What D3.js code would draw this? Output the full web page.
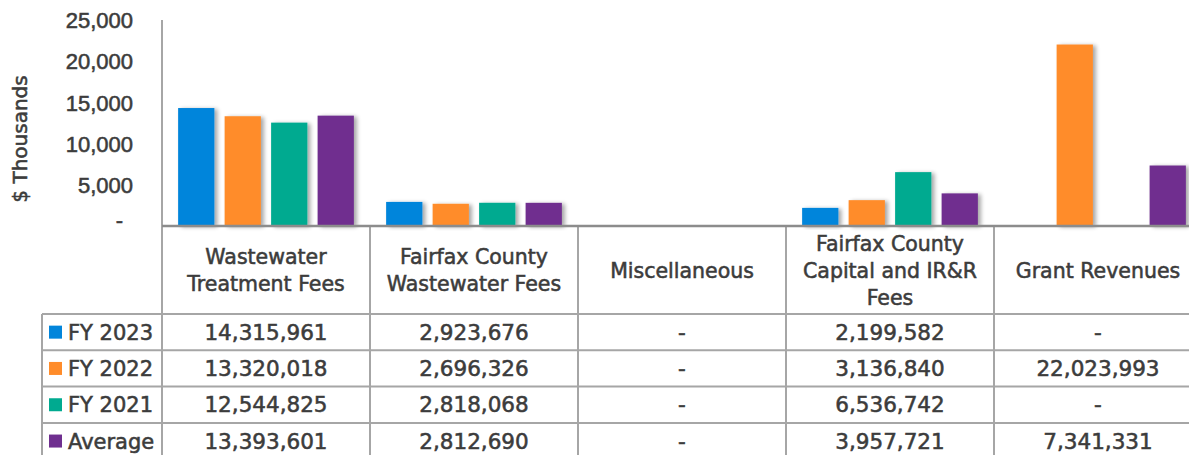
<!DOCTYPE html>
<html>
<head>
<meta charset="utf-8">
<script src="https://cdn.jsdelivr.net/npm/d3@7"></script>
<style>
  body { margin: 0; background: #fff; }
  svg { display: block; font-family: "DejaVu Sans", sans-serif; }
  svg text { stroke: #3c3c3c; stroke-width: 0.55px; }
</style>
</head>
<body>
<div class="res"></div>
<script>
// categories (header lines) and series values, in dollars
const categories = [
  ['Wastewater', 'Treatment Fees'],
  ['Fairfax County', 'Wastewater Fees'],
  ['Miscellaneous'],
  ['Fairfax County', 'Capital and IR&R', 'Fees'],
  ['Grant Revenues']
];
const seriesNames = ['FY 2023', 'FY 2022', 'FY 2021', 'Average'];
const seriesColors = ['#0285db', '#ff8c2a', '#00aa90', '#6f2f8f'];
const fy2023 = [14315961, 2923676, null, 2199582, null];
const fy2022 = [13320018, 2696326, null, 3136840, 22023993];
const fy2021 = [12544825, 2818068, null, 6536742, null];
const average = [13393601, 2812690, null, 3957721, 7341331];
const yTicks = [0, 5000, 10000, 15000, 20000, 25000];

const series = [fy2023, fy2022, fy2021, average];

const W = 1189, H = 455;
const margin = { top: 20, left: 162 };
const plotBottom = 226;
const plotRight = 1202; // last column runs past the window edge
const headerBottom = 314;
const rowH = 36.3;
const legendLeft = 42;
const textColor = '#3c3c3c';
const lineColor = '#a6a6a6';

const svg = d3.select('div.res')
  .append('svg')
  .attr('width', W)
  .attr('height', H);

// drop shadow for bars
const defs = svg.append('defs');
const filter = defs.append('filter')
  .attr('id', 'shadow')
  .attr('x', '-20%').attr('y', '-20%')
  .attr('width', '160%').attr('height', '140%');
filter.append('feGaussianBlur').attr('in', 'SourceAlpha').attr('stdDeviation', 2).attr('result', 'blur');
filter.append('feOffset').attr('in', 'blur').attr('dx', 3).attr('dy', 1).attr('result', 'off');
filter.append('feComponentTransfer').attr('in', 'off').attr('result', 'soft')
  .append('feFuncA').attr('type', 'linear').attr('slope', 0.35);
const merge = filter.append('feMerge');
merge.append('feMergeNode').attr('in', 'soft');
merge.append('feMergeNode').attr('in', 'SourceGraphic');

/**
 * SCALES
 */
const x0 = d3.scaleBand()
  .domain(d3.range(categories.length))
  .range([margin.left, plotRight]);

const x1 = d3.scaleBand()
  .domain(d3.range(seriesNames.length))
  .range([0, x0.bandwidth()])
  .paddingInner(0.22)
  .paddingOuter(0.347);

const y = d3.scaleLinear()
  .domain([0, 25000])
  .range([plotBottom, margin.top]);

/**
 * GRIDLINES + Y AXIS
 */
const grid = svg.append('g');
grid.selectAll('line.grid')
  .data(yTicks.filter(d => d > 0))
  .enter().append('line')
  .attr('class', 'grid')
  .attr('x1', margin.left).attr('x2', W)
  .attr('y1', d => y(d)).attr('y2', d => y(d))
  .style('stroke', lineColor)
  .style('stroke-width', 2)
  .style('filter', 'url(#shadow)');

const yAxis = d3.axisLeft(y)
  .tickValues(yTicks)
  .tickSize(0)
  .tickPadding(29)
  .tickFormat(d => d === 0 ? '-' : d3.format(',')(d));

const yg = svg.append('g')
  .attr('transform', `translate(${margin.left},0)`)
  .call(yAxis);
yg.select('.domain').remove();
yg.selectAll('text')
  .style('font-size', '22px')
  .style('fill', textColor)
  .attr('dx', d => d === 0 ? -10 : 0)
  .attr('dy', d => d === 0 ? '0.05em' : '0.35em');

// y axis title
svg.append('text')
  .attr('transform', 'translate(27,139) rotate(-90)')
  .attr('text-anchor', 'middle')
  .style('font-size', '20px')
  .style('fill', textColor)
  .text('$ Thousands');

/**
 * BARS
 */
const groups = svg.append('g').selectAll('g')
  .data(series)
  .enter().append('g')
  .style('fill', (d, i) => seriesColors[i]);

groups.each(function (vals, si) {
  d3.select(this).selectAll('rect')
    .data(vals.map((v, ci) => ({ v, ci })).filter(d => d.v != null))
    .enter().append('rect')
    .attr('x', d => x0(d.ci) + x1(si))
    .attr('width', x1.bandwidth())
    .attr('y', d => y(d.v / 1000))
    .attr('height', d => plotBottom - y(d.v / 1000))
    .style('filter', 'url(#shadow)');
});

/**
 * TABLE LINES
 */
const lines = svg.append('g')
  .style('stroke', lineColor)
  .style('stroke-width', 2);

// plot left border
lines.append('line')
  .attr('x1', margin.left).attr('x2', margin.left)
  .attr('y1', margin.top).attr('y2', H);
// column separators
lines.selectAll('line.col')
  .data(d3.range(1, categories.length))
  .enter().append('line')
  .attr('class', 'col')
  .attr('x1', d => x0(d)).attr('x2', d => x0(d))
  .attr('y1', plotBottom).attr('y2', H);
// legend column left edge
lines.append('line')
  .attr('x1', legendLeft).attr('x2', legendLeft)
  .attr('y1', headerBottom).attr('y2', H);
// row lines
lines.selectAll('line.row')
  .data(d3.range(seriesNames.length))
  .enter().append('line')
  .attr('class', 'row')
  .attr('x1', legendLeft).attr('x2', W)
  .attr('y1', d => headerBottom + d * rowH)
  .attr('y2', d => headerBottom + d * rowH);
// category axis
svg.append('line')
  .attr('x1', margin.left).attr('x2', W)
  .attr('y1', plotBottom).attr('y2', plotBottom)
  .style('stroke', '#8c8c8c')
  .style('stroke-width', 2.5);

/**
 * HEADER LABELS
 */
const headerMid = (plotBottom + headerBottom) / 2 + 7.5;
const lineGap = 27;
svg.append('g').selectAll('text')
  .data(categories)
  .enter().append('text')
  .attr('text-anchor', 'middle')
  .style('font-size', '20.5px')
  .style('fill', textColor)
  .each(function (lines, ci) {
    const t = d3.select(this);
    const y0 = headerMid - (lines.length - 1) * lineGap / 2;
    lines.forEach((l, k) => {
      t.append('tspan')
        .attr('x', x0(ci) + x0.bandwidth() / 2)
        .attr('y', y0 + k * lineGap)
        .text(l);
    });
  });

/**
 * TABLE VALUES + LEGEND
 */
const fmt = d3.format(',');
series.forEach((vals, si) => {
  const rowY = headerBottom + si * rowH + rowH / 2 + 7.5;
  svg.append('rect')
    .attr('x', 49)
    .attr('y', headerBottom + si * rowH + rowH / 2 - 6.5)
    .attr('width', 13).attr('height', 13)
    .style('fill', seriesColors[si]);
  svg.append('text')
    .attr('x', 68).attr('y', rowY)
    .style('font-size', '21px')
    .style('fill', textColor)
    .text(seriesNames[si]);
  svg.append('g').selectAll('text')
    .data(vals)
    .enter().append('text')
    .attr('x', (d, ci) => x0(ci) + x0.bandwidth() / 2)
    .attr('y', rowY)
    .attr('text-anchor', 'middle')
    .style('font-size', '21.5px')
    .style('fill', textColor)
    .text(d => d == null ? '-' : fmt(d));
});
</script>
</body>
</html>
